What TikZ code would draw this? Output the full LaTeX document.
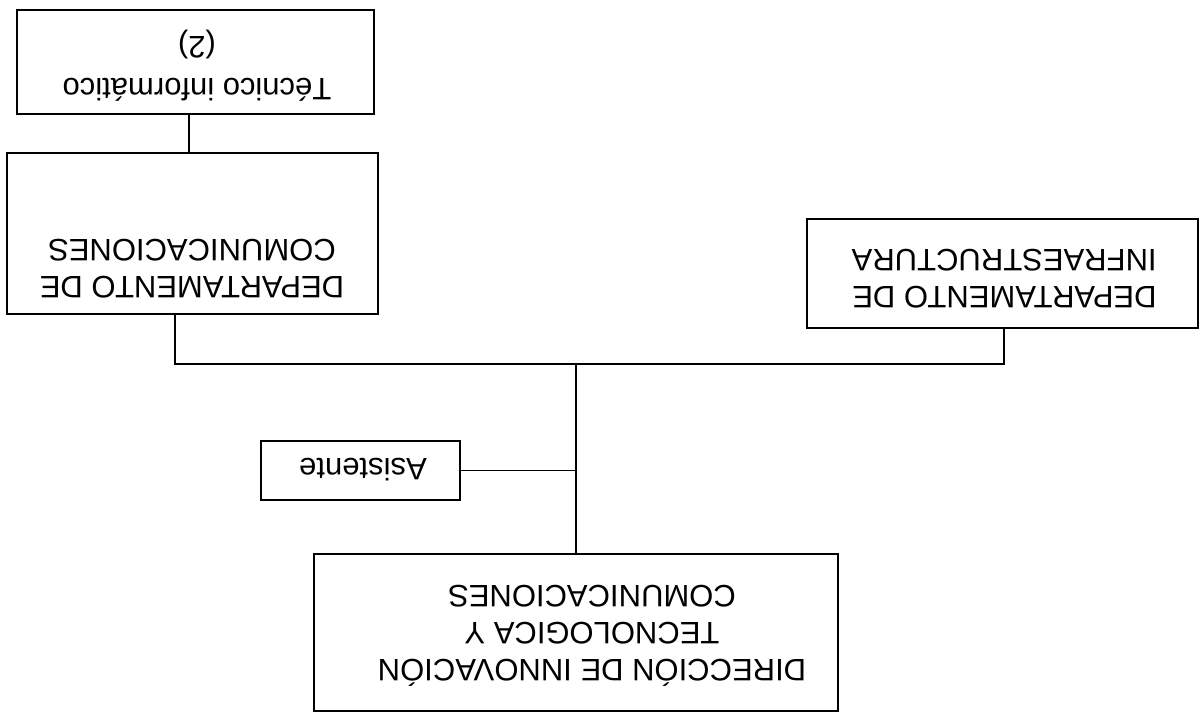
\documentclass[tikz,border=0pt]{standalone}
\usepackage{fontspec}
\setmainfont{Liberation Sans}
\begin{document}
\begin{tikzpicture}[x=0.5pt,y=-0.5pt,
  box/.style={draw=black, line width=1pt, inner sep=0pt},
  lbl/.style={rotate=180, inner sep=0pt, font=\fontsize{15.5}{18.5}\selectfont},
  conn/.style={draw=black, line width=0.8pt}]
\useasboundingbox[fill=white] (0,0) rectangle (1203,719);

% boxes
\node[box, minimum width=178.5pt, minimum height=52pt]   (tec)   at (195.5,62)   {};
\node[box, minimum width=185.5pt, minimum height=80.5pt] (dept)  at (192.5,233.5) {};
\node[box, minimum width=195.5pt, minimum height=54.5pt] (infra) at (1002.5,273.5) {};
\node[box, minimum width=99.5pt,  minimum height=29.5pt] (asis)  at (360.5,470.5) {};
\node[box, minimum width=262pt,   minimum height=78.5pt] (dir)   at (576,632.5)   {};

% texts (the whole chart is printed upside down)
\node[lbl, align=center] (tectxt) at (197,66) {Técnico informático\\[2.5pt](2)};
\node[lbl, align=center] (depttxt) at (192,268.5) {DEPARTAMENTO DE\\COMUNICACIONES};
\node[lbl, align=left, anchor=west] (infratxt) at (1157,279) {DEPARTAMENTO DE\\INFRAESTRUCTURA};
\node[lbl] (asistxt) at (363,470) {Asistente};
\node[lbl, align=center] (dirtxt) at (592,636) {DIRECCIÓN DE INNOVACIÓN\\TECNOLOGICA Y\\COMUNICACIONES};

% connectors
\coordinate (hub) at (576,364);
\draw[conn] ([xshift=-3.25pt]tec.south) -- ([xshift=-3.25pt]tec.south |- dept.north);
\draw[conn] ([xshift=-8.75pt]dept.south) |- (hub) -| ([xshift=0.75pt]infra.south);
\draw[conn] (hub) -- (dir.north);
\draw[conn] (asis.east) -- (asis.east -| hub);
\end{tikzpicture}
\end{document}
